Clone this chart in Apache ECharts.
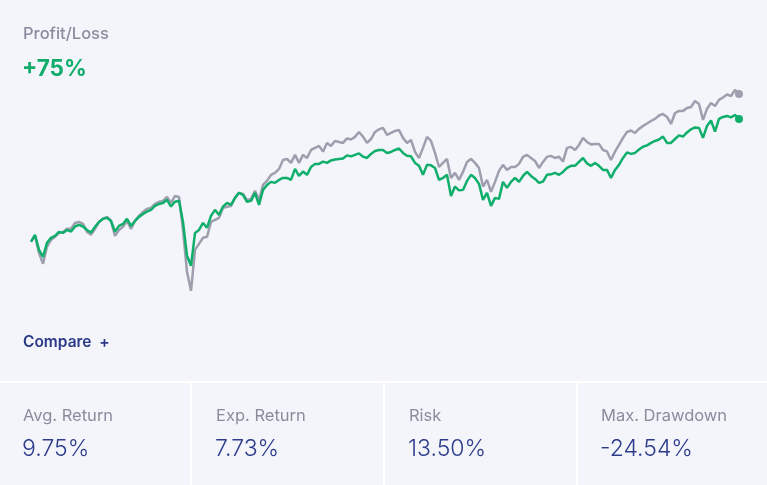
<!DOCTYPE html>
<html>
<head>
<meta charset="utf-8">
<script src="https://cdn.jsdelivr.net/npm/echarts@6/dist/echarts.min.js"></script>
<style>
  html, body { margin: 0; padding: 0; background: #f3f5fa; }
  #chart { width: 767px; height: 485px; }
</style>
</head>
<body>
<div id="chart"></div>
<script>
// cumulative profit/loss in %, one value per period
var portfolio = [
  0, 4.1, -5.1, -9.3, -0.8, 2.3, 3.5, 5.9, 5.3, 7.1, 6.1, 9.2, 10.2, 9.2, 7.1, 5.5, 9.0, 12.0, 13.9, 14.5,
  12.6, 6.1, 9.6, 10.8, 13.9, 9.6, 12.6, 15.1, 16.9, 18.3, 19.4, 21.8, 23.0, 23.6, 25.5, 21.4, 24.4, 24.9, 12.0, -8.7,
  -14.8, 5.3, 7.1, 11.4, 8.4, 15.7, 19.4, 16.3, 21.4, 23.6, 22.4, 26.7, 29.8, 28.5, 24.3, 24.9, 29.8, 22.4, 31.6, 34.6,
  36.5, 35.9, 37.7, 38.9, 38.9, 37.7, 44.4, 40.1, 42.8, 40.8, 45.6, 47.5, 47.5, 48.9, 48.1, 49.6, 50.2, 50.5, 50.8, 52.7,
  52.1, 53.0, 53.9, 51.9, 51.1, 53.6, 55.4, 56.0, 56.0, 54.2, 54.8, 56.0, 56.9, 54.2, 52.4, 52.1, 48.1, 46.3, 40.8, 46.9,
  46.6, 45.0, 37.7, 38.9, 40.8, 27.9, 33.6, 31.3, 31.6, 37.1, 40.8, 38.9, 35.3, 25.5, 29.8, 21.8, 26.7, 26.1, 36.5, 32.8,
  36.5, 38.9, 36.5, 40.1, 42.6, 40.1, 38.3, 35.9, 36.7, 40.8, 41.1, 42.0, 40.8, 42.6, 45.0, 46.3, 46.3, 48.7, 51.1, 47.8,
  46.3, 48.1, 46.3, 43.8, 43.8, 38.9, 43.8, 46.9, 51.1, 54.5, 53.6, 54.2, 56.3, 58.0, 58.8, 60.3, 61.5, 62.4, 64.2, 60.3,
  60.3, 62.7, 64.9, 64.2, 66.7, 68.6, 69.8, 69.5, 63.4, 70.7, 74.1, 67.2, 75.0, 76.2, 76.8, 75.9, 77.4, 75.0
];
var benchmark = [
  -0.2, 3.5, -6.9, -13.6, -3.2, 1.0, 2.9, 5.3, 5.9, 7.8, 7.8, 11.4, 12.0, 10.8, 5.9, 4.1, 7.8, 12.0, 13.9, 15.1,
  12.6, 3.5, 7.1, 9.0, 12.6, 7.8, 12.6, 15.7, 18.1, 20.0, 20.6, 23.0, 24.3, 24.9, 27.3, 23.6, 27.9, 27.3, 7.1, -18.5,
  -30.1, -5.1, -1.4, 2.3, 2.9, 12.0, 13.3, 14.5, 20.6, 21.2, 21.8, 26.7, 29.8, 29.1, 25.5, 26.1, 31.0, 25.5, 34.6, 37.1,
  40.8, 42.0, 44.4, 49.9, 50.5, 48.1, 53.0, 48.1, 53.0, 51.1, 56.0, 57.3, 58.5, 55.0, 60.3, 58.5, 61.5, 60.9, 60.3, 63.1,
  62.4, 64.0, 67.0, 64.2, 60.3, 62.7, 67.0, 68.6, 69.5, 65.2, 66.4, 67.6, 68.2, 63.4, 60.3, 62.1, 54.8, 51.1, 57.3, 64.0,
  61.5, 54.2, 45.6, 48.1, 50.5, 38.9, 42.0, 37.7, 42.6, 48.7, 50.5, 48.1, 45.0, 33.6, 37.7, 30.4, 36.5, 43.2, 46.9, 43.8,
  45.6, 45.6, 47.5, 51.8, 53.0, 51.1, 49.3, 45.0, 48.7, 51.8, 52.4, 51.1, 51.9, 48.9, 57.3, 57.9, 56.0, 59.1, 63.4, 60.9,
  59.4, 59.7, 59.7, 56.0, 55.1, 49.9, 55.0, 59.1, 63.4, 67.0, 67.9, 66.4, 68.9, 70.7, 72.2, 73.7, 75.0, 77.1, 78.0, 76.2,
  71.9, 78.6, 79.9, 79.9, 81.7, 82.3, 86.0, 84.1, 74.4, 81.1, 84.7, 82.9, 86.6, 88.1, 89.9, 89.0, 92.7, 90.2
];
var periods = portfolio.map(function (v, i) { return i; });

var statLabels = ['Avg. Return', 'Exp. Return', 'Risk', 'Max. Drawdown'];
var statValues = ['9.75%', '7.73%', '13.50%', '-24.54%'];

var chart = echarts.init(document.getElementById('chart'));
var last = portfolio.length - 1;
var font = 'Inter, "Noto Sans", sans-serif';

function endDot(val, params) {
  return params.dataIndex === last ? 8 : 0;
}

var graphics = [
  { type: 'text', left: 23, top: 26, style: { text: 'Profit/Loss', fill: '#8b8d9f', font: '500 16.5px ' + font } },
  { type: 'text', left: 22, top: 58, style: { text: '+75%', fill: '#12ad6c', font: 'bold 22.5px ' + font } },
  { type: 'text', left: 23, top: 334, style: { text: 'Compare  +', fill: '#2a3887', font: '600 15.5px ' + font } },
  { type: 'rect', shape: { x: 0, y: 381, width: 767, height: 2 }, style: { fill: '#ffffff' } }
];
var colX = [23, 216, 409, 601];
[191, 384, 577].forEach(function (x) {
  graphics.push({ type: 'rect', shape: { x: x - 1, y: 381, width: 2, height: 104 }, style: { fill: '#ffffff' } });
});
statLabels.forEach(function (t, i) {
  graphics.push({ type: 'text', left: colX[i], top: 408, style: { text: t, fill: '#8a8c9c', font: '16.5px ' + font } });
  graphics.push({ type: 'text', left: colX[i] - 1, top: 438, style: { text: statValues[i], fill: '#2e3c8c', font: '300 23px ' + font } });
});

var option = {
  backgroundColor: '#f3f5fa',
  animation: false,
  grid: { left: 31, right: 28, top: 78, bottom: 178 },
  xAxis: {
    type: 'category',
    data: periods,
    boundaryGap: false,
    show: false
  },
  yAxis: {
    type: 'value',
    min: -40,
    max: 100,
    show: false
  },
  graphic: graphics,
  series: [
    {
      name: 'Benchmark',
      type: 'line',
      data: benchmark,
      symbol: 'circle',
      showAllSymbol: true,
      symbolSize: endDot,
      lineStyle: { color: '#9d9fae', width: 2.5 },
      itemStyle: { color: '#9d9fae' }
    },
    {
      name: 'Portfolio',
      type: 'line',
      data: portfolio,
      symbol: 'circle',
      showAllSymbol: true,
      symbolSize: endDot,
      lineStyle: { color: '#0fae6b', width: 2.5 },
      itemStyle: { color: '#0fae6b' }
    }
  ]
};
chart.setOption(option);
</script>
</body>
</html>
